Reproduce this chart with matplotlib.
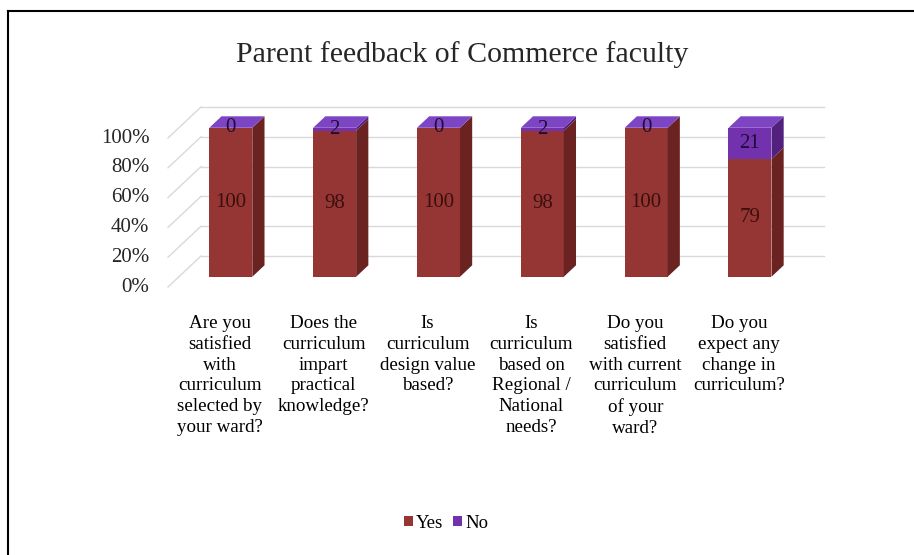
import numpy as np
import matplotlib.pyplot as plt
from matplotlib.patches import Polygon, Rectangle
from matplotlib.lines import Line2D

plt.rcParams['font.family'] = ['Liberation Serif', 'DejaVu Serif']

categories = [
    "Are you\nsatisfied\nwith\ncurriculum\nselected by\nyour ward?",
    "Does the\ncurriculum\nimpart\npractical\nknowledge?",
    "Is\ncurriculum\ndesign value\nbased?",
    "Is\ncurriculum\nbased on\nRegional /\nNational\nneeds?",
    "Do you\nsatisfied\nwith current\ncurriculum\nof your\nward?",
    "Do you\nexpect any\nchange in\ncurriculum?",
]
yes_vals = [100, 98, 100, 98, 100, 79]
no_vals = [0, 2, 0, 2, 0, 21]
yticks = [0, 20, 40, 60, 80, 100]

W, H = 914, 555
fig = plt.figure(figsize=(W / 100, H / 100), dpi=100)

# frame (only left and top edges visible in the source)
fig.add_artist(Line2D([8 / W, 8 / W], [0, 1 - 11 / H], color='black', lw=1.5))
fig.add_artist(Line2D([8 / W, 1], [1 - 11 / H, 1 - 11 / H], color='black', lw=1.5))

# front floor plane: x=-0.5 at px 168, x=5.5 at px 791; 0% at py 287, 100% at py 138
ax = fig.add_axes([168 / W, 1 - 287 / H, 623 / W, 149 / H])
ax.set_xlim(-0.5, 5.5)
ax.set_ylim(0, 100)
ax.axis('off')

px_x = 623 / 6.0
px_y = 149 / 100.0
DX = 33 / px_x   # full depth in data units
DY = 31 / px_y
f0, f1 = 0.33, 0.70   # bar sits between these depth fractions
bw = 43 / px_x

grid_c = '#d9d9d9'
# back wall gridlines and side wall diagonals
for t in yticks:
    ax.plot([-0.5 + DX, 5.5 + DX], [t + DY, t + DY], color=grid_c, lw=1, clip_on=False, zorder=1)
    ax.plot([-0.5, -0.5 + DX], [t, t + DY], color=grid_c, lw=1, clip_on=False, zorder=1)
    ax.text(-0.68, t, f"{t}%", ha='right', va='center', fontsize=15, color='#262626')

red_front, red_side, red_top = '#963634', '#6a2321', '#b04a48'
pur_front, pur_side, pur_top = '#7232ae', '#52217d', '#7d44c4'

x = np.arange(len(categories))
for i in x:
    xl = i + f0 * DX - bw / 2
    xr = xl + bw
    oy = f0 * DY
    ddx = (f1 - f0) * DX
    ddy = (f1 - f0) * DY
    segs = [(0, yes_vals[i], red_front, red_side), (yes_vals[i], yes_vals[i] + no_vals[i], pur_front, pur_side)]
    for lo, hi, fc, sc in segs:
        if hi <= lo:
            continue
        ax.add_patch(Rectangle((xl, lo + oy), bw, hi - lo, facecolor=fc, edgecolor='none', zorder=3, clip_on=False))
        ax.add_patch(Polygon([(xr, lo + oy), (xr + ddx, lo + oy + ddy), (xr + ddx, hi + oy + ddy), (xr, hi + oy)],
                             closed=True, facecolor=sc, edgecolor='none', zorder=3, clip_on=False))
    top = yes_vals[i] + no_vals[i] + oy
    ax.add_patch(Polygon([(xl, top), (xr, top), (xr + ddx, top + ddy), (xl + ddx, top + ddy)],
                         closed=True, facecolor=pur_top, edgecolor='none', zorder=3, clip_on=False))
    # data labels
    cx = xl + bw / 2
    ax.text(cx, yes_vals[i] / 2 + oy, str(yes_vals[i]), ha='center', va='center', fontsize=15,
            color='#3a0f0e', zorder=5)
    ax.text(cx, yes_vals[i] + no_vals[i] / 2 + oy, str(no_vals[i]), ha='center', va='center', fontsize=15,
            color='#1f0a3a', zorder=5)

# category labels
for i, lab in enumerate(categories):
    ax.text(i, -19, lab, ha='center', va='top', fontsize=13.7, linespacing=1.28, color='black')

# title
fig.text(462 / W, 1 - 55 / H, "Parent feedback of Commerce faculty", ha='center', va='center',
         fontsize=21.5, color='#262626')

# legend
leg_handles = [Rectangle((0, 0), 1, 1, facecolor=red_front), Rectangle((0, 0), 1, 1, facecolor=pur_front)]
fig.legend(leg_handles, ['Yes', 'No'], loc='center', bbox_to_anchor=(446 / W, 1 - 523 / H), ncol=2,
           frameon=False, fontsize=13.5, handlelength=0.5, handleheight=0.5, handletextpad=0.15,
           columnspacing=0.5)

fig.savefig('out.png', dpi=100)
